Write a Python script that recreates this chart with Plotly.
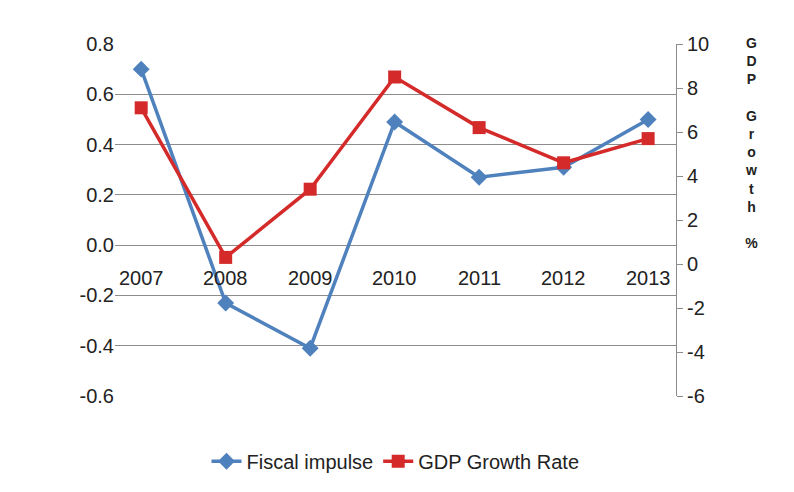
import plotly.graph_objects as go

years = ["2007", "2008", "2009", "2010", "2011", "2012", "2013"]
fiscal_impulse = [0.70, -0.23, -0.41, 0.49, 0.27, 0.31, 0.50]
gdp_growth = [7.1, 0.3, 3.4, 8.5, 6.2, 4.6, 5.7]
left_ticks = [0.8, 0.6, 0.4, 0.2, 0.0, -0.2, -0.4, -0.6]
right_ticks = [10, 8, 6, 4, 2, 0, -2, -4, -6]

fig = go.Figure()
fig.add_trace(go.Scatter(
    x=years, y=fiscal_impulse, name="Fiscal impulse", mode="lines+markers",
    line=dict(color="#4f81bd", width=3.5),
    marker=dict(symbol="diamond", size=13, color="#4f81bd")
))
fig.add_trace(go.Scatter(
    x=years, y=gdp_growth, name="GDP Growth Rate", mode="lines+markers",
    yaxis="y2", line=dict(color="#d42a2a", width=3.5),
    marker=dict(symbol="square", size=13, color="#d42a2a")
))

# category labels sit just under the left-axis zero line
for i, yr in enumerate(years):
    fig.add_annotation(x=i, xref="x", y=0, yref="y", text=yr, showarrow=False,
                       yshift=-33, font=dict(size=20, color="#222"))

fig.add_annotation(xref="paper", yref="paper", x=1.135, y=0.72,
                   text="<b>" + "<br>".join("GDP Growth %".replace(" ", "\u2002")) + "</b>",
                   showarrow=False, font=dict(size=14, color="#222"),
                   xanchor="center", yanchor="middle")

fig.update_layout(
    width=794, height=492,
    paper_bgcolor="white", plot_bgcolor="white",
    font=dict(family="Liberation Sans, Arial", size=20, color="#222"),
    margin=dict(l=107, r=126, t=36, b=104),
    xaxis=dict(type="category", showticklabels=False, showgrid=False,
               showline=False, range=[-0.31, 6.33]),
    yaxis=dict(range=[-0.6, 0.8], tickvals=left_ticks,
               ticktext=[f"{v:.1f}" for v in left_ticks],
               showgrid=True, gridcolor="#8c8c8c", gridwidth=1,
               zeroline=True, zerolinecolor="#8c8c8c", zerolinewidth=1,
               ticklen=0),
    yaxis2=dict(range=[-6, 10], tickvals=right_ticks,
                ticktext=[str(v) for v in right_ticks], overlaying="y",
                side="right", showgrid=False, zeroline=False,
                showline=True, linecolor="#8c8c8c", ticks="outside",
                ticklen=6, tickcolor="#8c8c8c"),
    legend=dict(orientation="h", x=0.5, xanchor="center", y=-0.13,
                yanchor="top", font=dict(size=20)),
    showlegend=True,
)

fig.write_html("out.html")
